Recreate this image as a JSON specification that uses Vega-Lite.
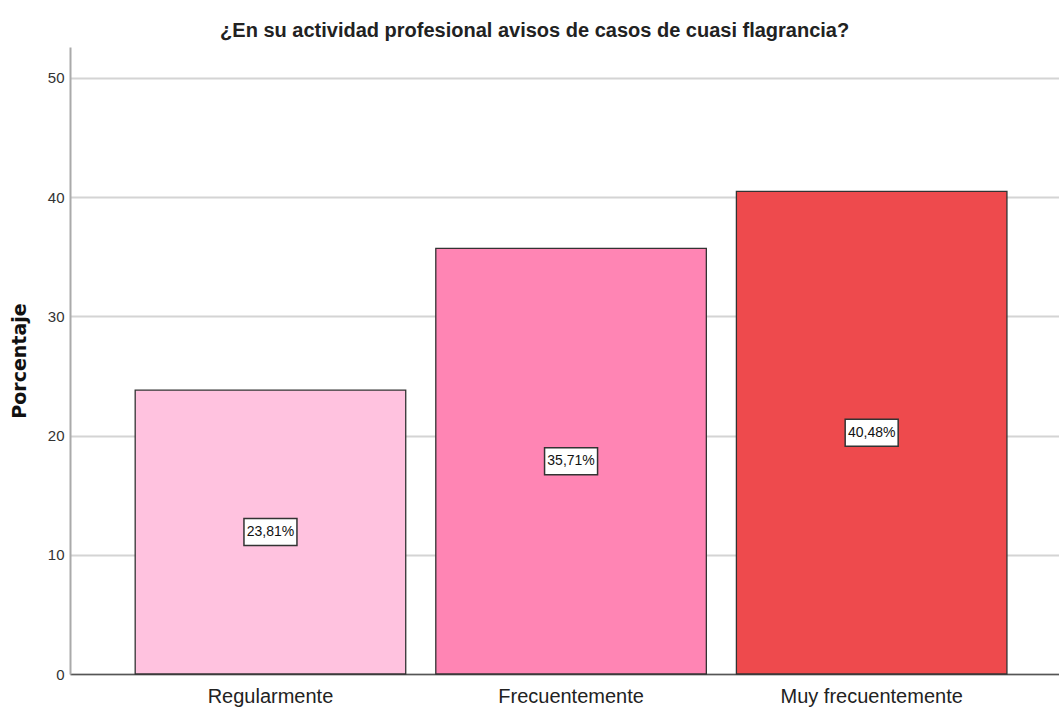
{
  "$schema": "https://vega.github.io/schema/vega-lite/v6.json",
  "autosize": "none",
  "width": 989,
  "height": 627,
  "padding": {"left": 70, "top": 47, "right": 0, "bottom": 37},
  "background": "white",
  "title": {
    "text": "¿En su actividad profesional avisos de casos de cuasi flagrancia?",
    "font": "Liberation Sans, Arial, sans-serif",
    "fontSize": 20,
    "fontWeight": "bold",
    "color": "#222222",
    "anchor": "middle",
    "frame": "bounds",
    "offset": 6
  },
  "config": {
    "view": {"stroke": null},
    "font": "Liberation Sans, Arial, sans-serif"
  },
  "data": {
    "values": [
      {"categoria": "Regularmente", "porcentaje": 23.81, "etiqueta": "23,81%"},
      {"categoria": "Frecuentemente", "porcentaje": 35.71, "etiqueta": "35,71%"},
      {"categoria": "Muy frecuentemente", "porcentaje": 40.48, "etiqueta": "40,48%"}
    ]
  },
  "encoding": {
    "x": {
      "field": "categoria",
      "type": "nominal",
      "sort": null,
      "scale": {"paddingInner": 0.1, "paddingOuter": 0.195, "align": 0.556},
      "axis": {
        "title": null,
        "labelAngle": 0,
        "labelFontSize": 20,
        "labelLimit": 0,
        "labelColor": "#222222",
        "labelPadding": 12,
        "ticks": false,
        "domainColor": "#555555",
        "domainWidth": 1.5,
        "grid": false
      }
    }
  },
  "layer": [
    {
      "mark": {"type": "bar", "stroke": "#333333", "strokeWidth": 1.3},
      "encoding": {
        "y": {
          "field": "porcentaje",
          "type": "quantitative",
          "scale": {"domain": [0, 52.6], "nice": false},
          "axis": {
            "title": "Porcentaje",
            "titleFont": "DejaVu Sans, Liberation Sans, sans-serif",
            "titleFontSize": 19,
            "titleFontWeight": "bold",
            "titleColor": "#111111",
            "titlePadding": 18,
            "values": [0, 10, 20, 30, 40, 50],
            "labelFontSize": 15,
            "labelColor": "#333333",
            "labelPadding": 6,
            "ticks": false,
            "domainColor": "#aaaaaa",
            "domainWidth": 2,
            "gridColor": "#d4d4d4",
            "gridWidth": 2
          }
        },
        "color": {
          "field": "categoria",
          "type": "nominal",
          "sort": null,
          "scale": {
            "domain": ["Regularmente", "Frecuentemente", "Muy frecuentemente"],
            "range": ["#FFC2DF", "#FF85B4", "#EE4A4D"]
          },
          "legend": null
        }
      }
    },
    {
      "transform": [{"calculate": "datum.porcentaje / 2", "as": "mitad"}],
      "mark": {
        "type": "point",
        "shape": "M-1,-0.509H1V0.509H-1Z",
        "size": 2809,
        "filled": true,
        "fill": "white",
        "stroke": "#333333",
        "strokeWidth": 1.5,
        "opacity": 1
      },
      "encoding": {
        "y": {"field": "mitad", "type": "quantitative", "scale": {"domain": [0, 52.6], "nice": false}}
      }
    },
    {
      "transform": [{"calculate": "datum.porcentaje / 2", "as": "mitad"}],
      "mark": {"type": "text", "fontSize": 14, "color": "#111111", "baseline": "middle", "align": "center"},
      "encoding": {
        "y": {"field": "mitad", "type": "quantitative", "scale": {"domain": [0, 52.6], "nice": false}},
        "text": {"field": "etiqueta"}
      }
    }
  ]
}
